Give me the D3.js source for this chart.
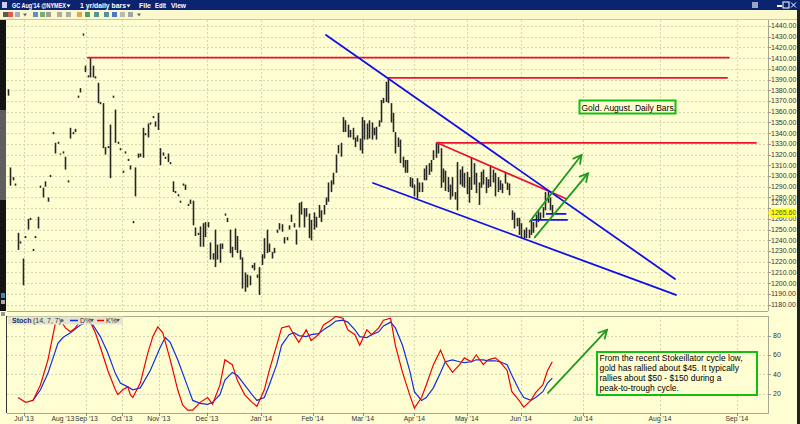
<!DOCTYPE html>
<html><head><meta charset="utf-8">
<script src="https://cdn.jsdelivr.net/npm/d3@7"></script>
<style>html,body{margin:0;padding:0;background:#fffed2;}svg{display:block}</style>
</head><body>
<svg id="c" width="800" height="424"></svg>
<script>
// ---------------- DATA ----------------
const barHigh = [1381,1308,1299,1293,1247,1239,1223,1244,1260,1261,
1232,1244,1262,1291,1289,1295,1280,1301,1341,1331,
1332,1321,1323,1318,1296,1345,1341,1344,1375,1382,
1433,1403,1394,1411,1403,1393,1387,1369,1368,1327,
1328,1348,1375,1362,1332,1326,1305,1323,1316,1310,
1258,1308,1321,1321,1345,1340,1349,1350,1356,1351,
1359,1326,1322,1318,1321,1313,1295,1286,1283,1277,
1293,1292,1274,1278,1277,1252,1247,1253,
1256,1257,1257,1238,1228,1250,1236,1237,1237,1265,
1261,1250,1234,1251,1244,1231,1224,1210,1208,1207,
1217,1219,1208,1215,1227,1242,1250,1237,1229,1233,
1250,1256,1255,1243,1243,1254,1264,1256,1250,1275,
1276,1270,1270,1265,1259,1266,1262,1273,1268,1273,
1280,1294,1296,1303,1320,
1329,1331,1355,1352,1348,1343,1345,1336,1338,1335,
1355,1352,1349,1352,1350,1345,1346,1352,1371,1373,
1388,1392,1368,1359,1341,1336,1334,1318,1315,1315,
1299,1298,1292,1298,1294,1294,1307,1310,1312,1315,
1324,1331,1332,1326,1307,1305,1299,
1292,1299,1285,1313,1306,1309,1303,1304,1299,1317,
1312,1303,1294,1304,1306,1299,1297,1310,1306,1303,
1299,1296,1293,1304,1294,1293,1268,1266,1261,1261,
1256,1250,1252,1250,1259,1257,1264,1268,1266,1271,
1285,1285,1280,1273];
const barLow = [1375,1291,1296,1291,1231,1237,1198,1242,1250,1259,
1230,1242,1251,1289,1280,1290,1276,1299,1339,1321,
1330,1320,1321,1306,1294,1335,1339,1341,1373,1378,
1431,1397,1392,1392,1392,1391,1368,1367,1326,1320,
1326,1298,1373,1331,1330,1324,1303,1321,1314,1306,
1256,1281,1317,1318,1317,1338,1336,1348,1354,1346,
1343,1310,1319,1316,1313,1311,1285,1284,1281,1275,
1291,1287,1272,1274,1254,1244,1245,1234,
1234,1243,1252,1222,1222,1215,1222,1219,1232,1263,
1257,1228,1224,1231,1228,1222,1195,1192,1196,1198,
1214,1212,1205,1189,1217,1223,1228,1229,1223,1228,
1247,1250,1248,1237,1240,1250,1257,1252,1236,1252,
1264,1252,1262,1242,1240,1250,1252,1261,1257,1264,
1273,1276,1285,1292,1303,
1321,1318,1341,1341,1336,1336,1334,1327,1332,1324,
1321,1334,1334,1335,1334,1338,1334,1346,1350,1368,
1369,1368,1350,1341,1321,1327,1312,1308,1303,1303,
1290,1289,1281,1279,1285,1285,1296,1296,1301,1304,
1315,1317,1321,1289,1294,1286,1285,
1278,1281,1278,1268,1292,1290,1289,1283,1275,1287,
1292,1284,1273,1289,1292,1284,1289,1290,1294,1281,
1285,1287,1284,1293,1287,1282,1259,1251,1253,1245,
1242,1242,1242,1242,1245,1247,1252,1257,1259,1261,
1268,1275,1268,1262];
const lastPrice = 1265.60;
const priceTicks = d3.range(1180, 1441, 10);
const stochTicks = [20, 40, 60, 80];
const monthTicks = [
  {label:"Jul '13", idx:6.4, grid:true},
  {label:"Aug '13", idx:22, grid:false},
  {label:"Sep '13", idx:31.4, grid:true},
  {label:"Oct '13", idx:45.6, grid:true},
  {label:"Nov '13", idx:60.4, grid:true},
  {label:"Dec '13", idx:79.7, grid:true},
  {label:"Jan '14", idx:101.7, grid:true},
  {label:"Feb '14", idx:122.6, grid:true},
  {label:"Mar '14", idx:143.3, grid:true},
  {label:"Apr '14", idx:165, grid:true},
  {label:"May '14", idx:187, grid:true},
  {label:"Jun '14", idx:209.8, grid:true},
  {label:"Jul '14", idx:235.9, grid:true},
  {label:"Aug '14", idx:268.3, grid:true},
  {label:"Sep '14", idx:300.6, grid:true}
];
const menuItems = ["GC Aug'14 @NYMEX", "1 yr/daily bars", "File", "Edit", "View"];
// stochastic %K (red) and %D (blue): [bar index, value]
const stochK = [[4,16],[7,11],[10,13],[13,29],[16,55],[19,93],[21,96],[23,88],[25,84],[27,88],[29,96],[31,99],[33,94],[35,83],[37,68],[40,44],[43,24],[44,19],[46,24],[48,27],[49,19],[50,16],[53,31],[56,62],[58,79],[60,89],[62,83],[65,55],[68,24],[70,8],[72,3],[74,3],[77,11],[80,16],[82,9],[85,29],[87,55],[90,50],[92,34],[95,19],[98,11],[100,7],[103,24],[105,44],[108,70],[110,88],[113,90],[115,81],[117,73],[120,86],[122,75],[125,81],[127,91],[130,96],[132,100],[135,98],[137,86],[140,81],[142,70],[145,86],[147,81],[150,88],[152,96],[155,98],[157,70],[160,42],[163,19],[165,5],[168,16],[170,29],[173,50],[176,65],[178,53],[181,42],[184,50],[186,57],[189,53],[191,60],[194,50],[196,55],[199,57],[201,53],[204,44],[206,22],[209,13],[211,6],[214,13],[216,21],[219,29],[221,44],[223,53]];
const stochD = [[10,13],[13,24],[16,41],[20,72],[22,78],[25,83],[29,91],[32,94],[34,91],[37,79],[40,62],[43,41],[45,31],[48,27],[50,24],[53,26],[57,44],[61,68],[63,78],[65,73],[68,55],[72,27],[74,13],[77,10],[80,9],[82,11],[85,19],[87,34],[90,42],[92,39],[95,29],[98,19],[100,13],[103,16],[105,29],[108,50],[110,70],[113,81],[115,83],[117,80],[120,79],[122,81],[125,82],[127,86],[130,91],[132,95],[135,96],[137,94],[140,86],[142,79],[145,78],[147,81],[150,84],[152,90],[155,94],[157,88],[160,70],[163,44],[165,22],[168,13],[170,16],[173,26],[176,42],[178,53],[181,55],[184,53],[186,52],[189,53],[191,55],[194,55],[196,54],[199,54],[201,53],[204,50],[206,39],[209,24],[211,16],[214,13],[216,16],[219,22],[221,31],[223,36]];
// annotations in data units (bar index, price)
const redLines = [[32,1410.5,297.3,1410.5],[153.9,1391.5,296.5,1391.5],[174.5,1331,308.7,1331],[174.5,1331,228.6,1279]];
const blueLines = [[128,1431.6,274.6,1203.9],[147.6,1293.5,275,1189],[220.6,1264.6,228.6,1264.6],[214.6,1259,229.2,1259]];
const greenArrows = [[213.5,1257.4,235.3,1319.6],[215.6,1242.8,238.0,1302.5]];
const stochArrow = [221.2,20.7,246,85.9];
const note1 = "Gold. August. Daily Bars.";
const note2 = ["From the recent Stokeillator cycle low,","gold has rallied about $45.  It typically","rallies about $50 - $150 during a","peak-to-trough cycle."];

// ---------------- LAYOUT ----------------
const BG = "#fffed2", GRID = "#d6d6b0";
const FONT = "'Liberation Sans', Arial, sans-serif";
const P = {left:7, right:768, top:20, mainBottom:311, lowTop:316, lowBottom:413};
const svg = d3.select("#c");
const x = d3.scaleLinear().domain([0,78,133,223]).range([8,202.7,338.3,552.3]);
const y = d3.scaleLinear().domain([1180,1440]).range([304.6,26]);
const ys = d3.scaleLinear().domain([0,100]).range([P.lowBottom,316.3]);

svg.append("rect").attr("width",800).attr("height",424).attr("fill",BG);

// title bar
svg.append("rect").attr("x",0).attr("y",0).attr("width",800).attr("height",10).attr("fill","#0b2472");
svg.append("rect").attr("x",2).attr("y",2).attr("width",5).attr("height",6).attr("fill","#c8d0e8");
const tb = svg.append("g").attr("font-family",FONT).attr("font-size",6.5).attr("font-weight","bold").attr("fill","#fff");
const menuPos = [[12,54],[80,46],[139,12],[155,11],[171,15]];
menuItems.forEach((t,k)=>{
  tb.append("text").attr("x",menuPos[k][0]).attr("y",7.8).attr("textLength",menuPos[k][1]).attr("lengthAdjust","spacingAndGlyphs").text(t);
});
// dropdown markers in title bar
[[68.5,7.5],[128.5,7.5]].forEach(p=>svg.append("path").attr("d",`M${p[0]-2},${p[1]-3} L${p[0]+2},${p[1]-3} L${p[0]},${p[1]} Z`).attr("fill","#fff"));
// window controls
svg.append("rect").attr("x",752).attr("y",2).attr("width",6).attr("height",6).attr("fill","#9aa6c8");
svg.append("rect").attr("x",777).attr("y",5).attr("width",5).attr("height",2).attr("fill","#fff");
svg.append("rect").attr("x",783).attr("y",2).attr("width",6).attr("height",6).attr("fill","none").attr("stroke","#fff");
svg.append("path").attr("d","M791,2.5 L796,7.5 M796,2.5 L791,7.5").attr("stroke","#fff").attr("stroke-width",1);
// toolbar
svg.append("rect").attr("x",0).attr("y",10).attr("width",800).attr("height",9).attr("fill","#fbf8cc");
svg.append("line").attr("x1",0).attr("x2",800).attr("y1",19.5).attr("y2",19.5).attr("stroke","#c9c7a0");
const icons = [[3,"#333"],[8,"#d33"],[15,"#8aa0c0"],[33,"#3a6fd0"],[40,"#5a9a5a"],[46,"#888"],[57,"#999"],[66,"#999"],[77,"#e0902a"],[85,"#2a8a4a"],[94,"#2a7a8a"],[104,"#2a7a8a"],[112,"#2255cc"],[120,"#aaa"],[128,"#8890a0"]];
icons.forEach(d=>svg.append("rect").attr("x",d[0]).attr("y",12).attr("width",5).attr("height",5).attr("fill",d[1]).attr("opacity",0.8));
[[25,16.5],[139,16.5]].forEach(p=>svg.append("path").attr("d",`M${p[0]-2},${p[1]-3} L${p[0]+2},${p[1]-3} L${p[0]},${p[1]} Z`).attr("fill","#666"));

// left strip
svg.append("rect").attr("x",0).attr("y",20).attr("width",6).attr("height",291).attr("fill","#141414");
svg.append("rect").attr("x",0).attr("y",110).attr("width",6).attr("height",90).attr("fill","#5e5e5e");
svg.append("rect").attr("x",1).attr("y",293).attr("width",4).attr("height",5).attr("fill","#3a8ab8");
svg.append("rect").attr("x",1).attr("y",300).attr("width",4).attr("height",4).attr("fill","#aaa");
svg.append("rect").attr("x",1).attr("y",312).attr("width",4).attr("height",4).attr("fill","#999");
svg.append("rect").attr("x",797).attr("y",10).attr("width",3).attr("height",414).attr("fill","#222");

// grid lines
const grid = svg.append("g").attr("stroke",GRID).attr("stroke-dasharray","2,2").attr("stroke-width",1);
priceTicks.forEach(p=>grid.append("line").attr("x1",P.left).attr("x2",P.right).attr("y1",Math.round(y(p))+0.5).attr("y2",Math.round(y(p))+0.5));
stochTicks.forEach(s=>grid.append("line").attr("x1",P.left).attr("x2",P.right).attr("y1",Math.round(ys(s))+0.5).attr("y2",Math.round(ys(s))+0.5));
monthTicks.filter(d=>d.grid).forEach(d=>{
  const xx = Math.round(x(d.idx))+0.5;
  grid.append("line").attr("x1",xx).attr("x2",xx).attr("y1",P.top).attr("y2",P.mainBottom);
  grid.append("line").attr("x1",xx).attr("x2",xx).attr("y1",P.lowTop).attr("y2",P.lowBottom);
});

// frames
const frame = svg.append("g").attr("stroke","#a8a890").attr("fill","none");
frame.append("line").attr("x1",P.right+0.5).attr("x2",P.right+0.5).attr("y1",P.top).attr("y2",P.mainBottom);
frame.append("line").attr("x1",P.right+0.5).attr("x2",P.right+0.5).attr("y1",P.lowTop).attr("y2",P.lowBottom);
frame.append("line").attr("x1",P.left).attr("x2",P.right).attr("y1",P.mainBottom+0.5).attr("y2",P.mainBottom+0.5);
frame.append("line").attr("x1",P.left).attr("x2",P.right).attr("y1",P.lowTop+0.5).attr("y2",P.lowTop+0.5);
frame.append("line").attr("x1",P.left).attr("x2",P.right+1).attr("y1",P.lowBottom+0.5).attr("y2",P.lowBottom+0.5);
frame.append("line").attr("x1",P.left-0.5).attr("x2",P.left-0.5).attr("y1",P.lowTop).attr("y2",P.lowBottom).attr("stroke","#333");

// right price axis
const ax = svg.append("g").attr("font-family",FONT).attr("font-size",7).attr("fill","#333");
const tagY = y(lastPrice);
priceTicks.forEach(p=>{
  let yy = y(p);
  const tk = Math.round(yy)+0.5;
  svg.append("line").attr("x1",P.right).attr("x2",P.right+3).attr("y1",tk).attr("y2",tk).attr("stroke","#999");
  if (Math.abs(yy-tagY) < 8) yy = yy < tagY ? tagY-10 : tagY+6;
  ax.append("text").attr("x",771).attr("y",yy).attr("dy","0.35em").text(d3.format(".2f")(p));
});
stochTicks.forEach(s=>{
  const tk = Math.round(ys(s))+0.5;
  svg.append("line").attr("x1",P.right).attr("x2",P.right+3).attr("y1",tk).attr("y2",tk).attr("stroke","#999");
  ax.append("text").attr("x",773).attr("y",ys(s)).attr("dy","0.35em").text(s);
});

// bottom axis
monthTicks.forEach(d=>{
  const xx = Math.round(x(d.idx))+0.5;
  if (d.grid) svg.append("line").attr("x1",xx).attr("x2",xx).attr("y1",P.lowBottom).attr("y2",P.lowBottom+3).attr("stroke","#888");
  ax.append("text").attr("x",x(d.idx)).attr("y",420.5).attr("text-anchor","middle").attr("font-size",6.8).text(d.label);
});

// price bars
svg.append("g").selectAll("line").data(barHigh).join("line")
  .attr("x1",(d,i)=>Math.round(x(i))+0.5).attr("x2",(d,i)=>Math.round(x(i))+0.5)
  .attr("y1",d=>y(d)).attr("y2",(d,i)=>Math.max(y(barLow[i]), y(d)+1.2))
  .attr("stroke","#262626").attr("stroke-width",1.6);

// annotation lines
function seg(g, arr, color, sy){
  arr.forEach(a=>g.append("line").attr("x1",x(a[0])).attr("y1",sy(a[1])).attr("x2",x(a[2])).attr("y2",sy(a[3]))
    .attr("stroke",color).attr("stroke-width",1.8).attr("stroke-linecap","round"));
}
const ann = svg.append("g");
seg(ann, redLines, "#f01030", y);
seg(ann, blueLines, "#1010e8", y);
function arrow(a, sy){
  const x0=x(a[0]), y0=sy(a[1]), x1=x(a[2]), y1=sy(a[3]);
  const g = ann.append("g").attr("stroke","#1f9a1f").attr("stroke-width",1.8).attr("fill","none").attr("stroke-linecap","round");
  g.append("line").attr("x1",x0).attr("y1",y0).attr("x2",x1).attr("y2",y1);
  const ang = Math.atan2(y1-y0, x1-x0), L=9, w=0.5;
  g.append("path").attr("d",`M${x1-L*Math.cos(ang-w)},${y1-L*Math.sin(ang-w)} L${x1},${y1} L${x1-L*Math.cos(ang+w)},${y1-L*Math.sin(ang+w)}`);
}
greenArrows.forEach(a=>arrow(a,y));
arrow(stochArrow, ys);

// last price tag (drawn on top)
svg.append("path").attr("d",`M${P.right},${tagY} L${P.right+3},${tagY-4.5} L795,${tagY-4.5} L795,${tagY+4.5} L${P.right+3},${tagY+4.5} Z`).attr("fill","#ffff00");
svg.append("text").attr("x",771).attr("y",tagY).attr("dy","0.35em").attr("font-family",FONT).attr("font-size",7).attr("fill","#555").text(d3.format(".2f")(lastPrice));

// stochastic lines
const ln = d3.line().x(d=>x(d[0])).y(d=>ys(d[1]));
svg.append("path").attr("d",ln(stochD)).attr("fill","none").attr("stroke","#1030e0").attr("stroke-width",1.2);
svg.append("path").attr("d",ln(stochK)).attr("fill","none").attr("stroke","#f00000").attr("stroke-width",1.2);

// stoch legend
const lg = svg.append("g").attr("font-family",FONT).attr("font-size",7);
lg.append("rect").attr("x",8).attr("y",316.5).attr("width",115).attr("height",8).attr("fill","#e6e4cc");
lg.append("text").attr("x",12).attr("y",323).attr("font-weight","bold").attr("fill","#1e2d6a").text("Stoch");
lg.append("text").attr("x",33).attr("y",323).attr("fill","#333").text("(14, 7, 7)");
lg.append("circle").attr("cx",62).attr("cy",320.5).attr("r",1.6).attr("fill","#666");
lg.append("line").attr("x1",70).attr("x2",78).attr("y1",320.5).attr("y2",320.5).attr("stroke","#1030e0").attr("stroke-width",1.5);
lg.append("text").attr("x",80).attr("y",323).attr("fill","#333").text("D%");
lg.append("path").attr("d","M90,319 L94,319 L92,322 Z").attr("fill","#555");
lg.append("line").attr("x1",97).attr("x2",104).attr("y1",320.5).attr("y2",320.5).attr("stroke","#f00000").attr("stroke-width",1.5);
lg.append("text").attr("x",106).attr("y",323).attr("fill","#333").text("K%");
lg.append("path").attr("d","M116,319 L120,319 L118,322 Z").attr("fill","#555");

// notes
const nt = svg.append("g").attr("font-family",FONT).attr("font-size",8.5).attr("fill","#000");
nt.append("rect").attr("x",579.5).attr("y",100.5).attr("width",96).attr("height",13).attr("fill",BG).attr("stroke","#10c010").attr("stroke-width",2);
nt.append("text").attr("x",581.5).attr("y",110.5).text(note1);
nt.append("rect").attr("x",597).attr("y",352).attr("width",160).attr("height",43).attr("fill",BG).attr("stroke","#10c010").attr("stroke-width",2);
note2.forEach((t,k)=>nt.append("text").attr("x",599.5).attr("y",360.8+k*10).text(t));
</script>
</body></html>
